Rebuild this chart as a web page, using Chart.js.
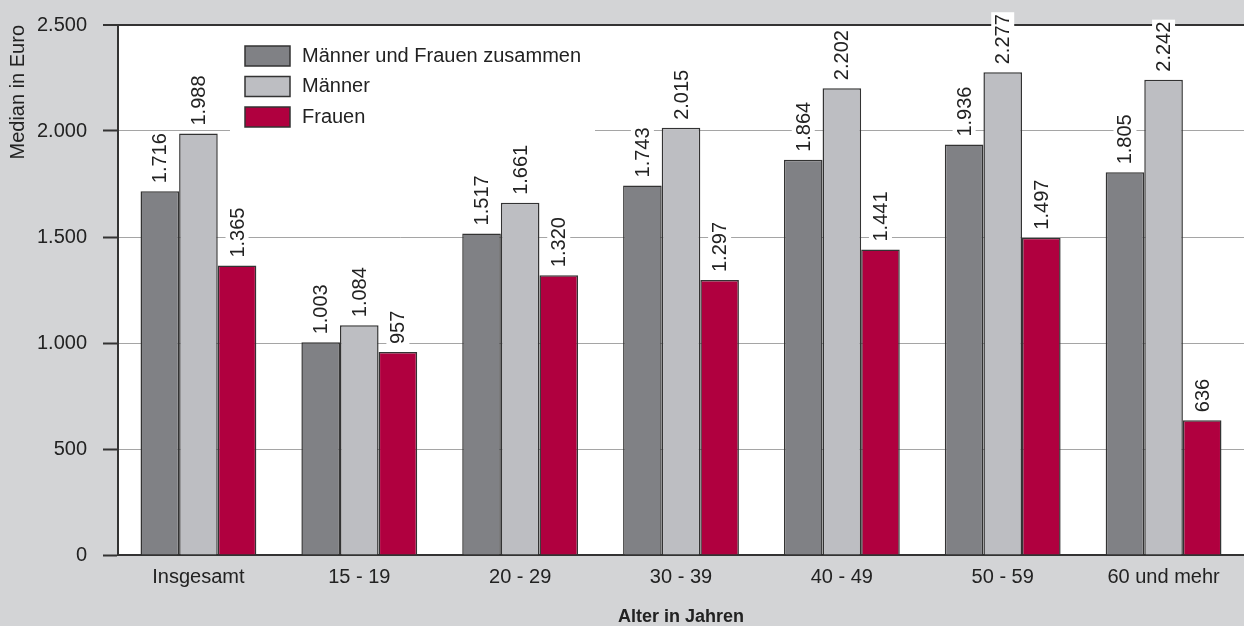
<!DOCTYPE html>
<html>
<head>
<meta charset="utf-8">
<script src="https://cdn.jsdelivr.net/npm/chart.js@4"></script>
<style>
  body { margin: 0; background: #d3d4d6; }
  canvas { display: block; }
</style>
</head>
<body>
<canvas id="chart" width="1244" height="626"></canvas>
<script>
var categories = ['Insgesamt', '15 - 19', '20 - 29', '30 - 39', '40 - 49', '50 - 59', '60 und mehr'];
var seriesNames = ['Männer und Frauen zusammen', 'Männer', 'Frauen'];
var zusammen = [1716, 1003, 1517, 1743, 1864, 1936, 1805];
var maenner = [1988, 1084, 1661, 2015, 2202, 2277, 2242];
var frauen = [1365, 957, 1320, 1297, 1441, 1497, 636];
var yTicks = [0, 500, 1000, 1500, 2000, 2500];

function fmt(v) {
  // deutsche Tausenderpunkte
  return String(v).replace(/\B(?=(\d{3})+(?!\d))/g, '.');
}

Chart.defaults.font.family = '"Liberation Sans", Arial, sans-serif';
Chart.defaults.font.size = 20;
Chart.defaults.color = '#222';

var backgroundPlugin = {
  id: 'bg',
  beforeDraw: function(chart) {
    var c = chart.ctx, a = chart.chartArea;
    c.save();
    c.fillStyle = '#d3d4d6';
    c.fillRect(0, 0, chart.width, chart.height);
    c.fillStyle = '#ffffff';
    c.fillRect(a.left, a.top, a.right - a.left, a.bottom - a.top);
    c.restore();
  }
};

var labelPlugin = {
  id: 'labels',
  afterDraw: function(chart) {
    var c = chart.ctx;
    c.save();
    // legend inside the plot
    c.fillStyle = '#ffffff';
    c.fillRect(230, 36, 365, 100);
    c.font = '20px "Liberation Sans", Arial, sans-serif';
    c.textBaseline = 'middle';
    c.textAlign = 'left';
    chart.data.datasets.forEach(function(ds, i) {
      var y = 46 + i * 30.5;
      c.fillStyle = ds.backgroundColor;
      c.fillRect(245, y, 45, 20);
      c.strokeStyle = '#333';
      c.lineWidth = 1.5;
      c.strokeRect(245, y, 45, 20);
      c.fillStyle = '#222';
      c.fillText(ds.label, 302, y + 10);
    });
    // value labels
    chart.data.datasets.forEach(function(ds, i) {
      var meta = chart.getDatasetMeta(i);
      meta.data.forEach(function(bar, j) {
        var txt = fmt(ds.data[j]);
        var w = c.measureText(txt).width;
        c.save();
        c.translate(bar.x, bar.y - 8);
        c.rotate(-Math.PI / 2);
        c.fillStyle = '#ffffff';
        c.fillRect(-2, -11.5, w + 4, 23);
        c.fillStyle = '#222';
        c.fillText(txt, 0, 1);
        c.restore();
      });
    });
    c.restore();
  }
};

var ctx = document.getElementById('chart').getContext('2d');
var chart = new Chart(ctx, {
  type: 'bar',
  data: {
    labels: categories,
    datasets: [{
      label: seriesNames[0],
      data: zusammen,
      backgroundColor: '#808185',
      borderColor: '#333',
      borderWidth: 1.5
    }, {
      label: seriesNames[1],
      data: maenner,
      backgroundColor: '#bdbec2',
      borderColor: '#333',
      borderWidth: 1.5
    }, {
      label: seriesNames[2],
      data: frauen,
      backgroundColor: '#b0003f',
      borderColor: '#333',
      borderWidth: 1.5
    }]
  },
  options: {
    responsive: false,
    animation: false,
    devicePixelRatio: 1,
    layout: { padding: { top: 25, right: 0, bottom: 0, left: 0 } },
    datasets: { bar: { categoryPercentage: 0.72, barPercentage: 1.0 } },
    plugins: {
      legend: { display: false },
      tooltip: { enabled: false }
    },
    scales: {
      x: {
        grid: { display: false },
        border: { color: '#333', width: 2 },
        ticks: { padding: 2, font: { size: 20 }, maxRotation: 0 },
        title: {
          display: true,
          text: 'Alter in Jahren',
          font: { size: 18, weight: 'bold', lineHeight: 1 },
          padding: 0
        },
        afterFit: function(scale) {
          scale.height = 71;
          scale.paddingLeft = 0;
          scale.paddingRight = 0;
        }
      },
      y: {
        min: 0,
        max: 2500,
        afterBuildTicks: function(scale) {
          scale.ticks = yTicks.map(function(v) { return { value: v }; });
        },
        ticks: {
          padding: 16,
          font: { size: 20 },
          callback: function(v) { return fmt(v); }
        },
        grid: {
          color: function(c) {
            return (c.tick && (c.tick.value === 0 || c.tick.value === 2500)) ? '#333' : '#a5a5a5';
          },
          lineWidth: function(c) {
            return (c.tick && c.tick.value === 2500) ? 2 : 1;
          },
          tickColor: '#333',
          tickWidth: 2,
          tickLength: 15
        },
        border: { color: '#333', width: 2 },
        title: {
          display: true,
          text: 'Median in Euro',
          align: 'end',
          font: { size: 20 },
          padding: { top: 6, bottom: 0 }
        },
        afterFit: function(scale) {
          scale.width = 118;
          scale.paddingTop = 0;
          scale.paddingBottom = 0;
        }
      }
    }
  },
  plugins: [backgroundPlugin, labelPlugin]
});
</script>
</body>
</html>
